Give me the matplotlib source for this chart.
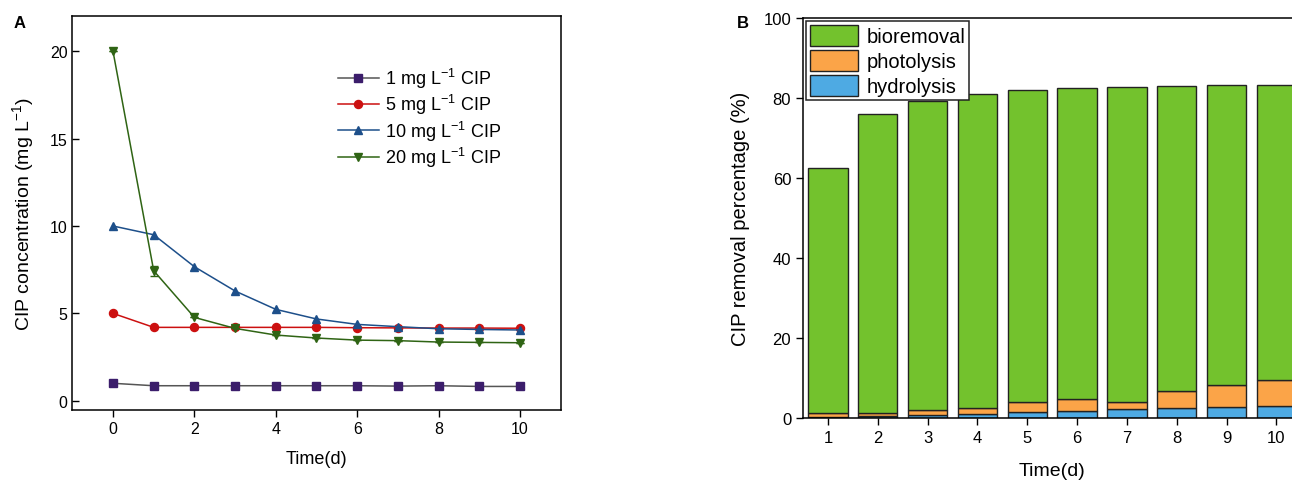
import matplotlib
matplotlib.use("Agg")
import matplotlib.pyplot as plt
import numpy as np

plt.rcParams['font.family'] = ['Liberation Sans', 'DejaVu Sans']
plt.rcParams['mathtext.fontset'] = 'custom'
plt.rcParams['mathtext.rm'] = 'Liberation Sans'
plt.rcParams['mathtext.default'] = 'regular'

# CIP concentration over time, four starting doses
days = [0, 1, 2, 3, 4, 5, 6, 7, 8, 9, 10]
conc_1 = [1.0, 0.86, 0.86, 0.86, 0.86, 0.86, 0.86, 0.84, 0.86, 0.82, 0.82]
conc_5 = [5.0, 4.2, 4.2, 4.2, 4.2, 4.2, 4.18, 4.17, 4.16, 4.16, 4.15]
conc_10 = [10.0, 9.5, 7.67, 6.28, 5.23, 4.68, 4.37, 4.24, 4.12, 4.08, 4.05]
conc_20 = [20.0, 7.44, 4.77, 4.14, 3.76, 3.59, 3.47, 3.44, 3.36, 3.34, 3.32]
err_20 = [0, 0.3, 0, 0, 0, 0, 0, 0, 0, 0, 0]
dose_labels = ['1 mg L$^{-1}$ CIP', '5 mg L$^{-1}$ CIP',
               '10 mg L$^{-1}$ CIP', '20 mg L$^{-1}$ CIP']

# removal pathways, % of CIP removed
bar_days = [1, 2, 3, 4, 5, 6, 7, 8, 9, 10]
hydrolysis = [0.3, 0.6, 0.83, 1.08, 1.5, 1.92, 2.25, 2.5, 2.92, 3.17]
photolysis = [0.9, 0.65, 1.17, 1.42, 2.58, 2.9, 1.92, 4.4, 5.5, 6.4]
total_removal = [62.5, 76.0, 79.2, 81.0, 82.0, 82.5, 82.7, 83.1, 83.2, 83.2]

W, H = 1292, 481
fig = plt.figure(figsize=(W / 100, H / 100), dpi=100)

# ---- panel A
ax1 = fig.add_axes([72.3 / W, 1 - 410.5 / H, 488.4 / W, 393.2 / H])
styles = [
    (conc_1, 's', '#3b1d6b', '#555555'),
    (conc_5, 'o', '#cc1010', '#cc1010'),
    (conc_10, '^', '#1d4f8a', '#1d4f8a'),
    (conc_20, 'v', '#2f6414', '#2f6414'),
]
for (vals, mk, mc, lc), lab in zip(styles, dose_labels):
    ax1.plot(days, vals, color=lc, lw=1.1, marker=mk, markersize=5.8,
             markerfacecolor=mc, markeredgecolor=mc, label=lab)
ax1.errorbar(days, conc_20, yerr=err_20, fmt='none', ecolor='#2f6414',
             elinewidth=0.8, capsize=3)

ax1.set_xlim(-1, 11)
ax1.set_ylim(-0.5, 22)
ax1.set_xticks([0, 2, 4, 6, 8, 10])
ax1.set_yticks([0, 5, 10, 15, 20])
ax1.tick_params(axis='y', direction='in', length=5, width=1, labelsize=11.5)
ax1.tick_params(axis='x', direction='out', length=5, width=1, labelsize=11.5)
for s in ax1.spines.values():
    s.set_linewidth(1.1)
ax1.set_xlabel('Time(d)', fontsize=13, labelpad=10)
ax1.set_ylabel('CIP concentration (mg L$^{-1}$)', fontsize=14, labelpad=10)
ax1.legend(loc='upper left', bbox_to_anchor=(0.51, 0.915), frameon=False,
           fontsize=13, handlelength=2.3, handletextpad=0.3,
           labelspacing=0.12)

# ---- panel B
ax2 = fig.add_axes([803 / W, 1 - 419.3 / H, 498.4 / W, 400.3 / H])
bio = np.array(total_removal) - np.array(hydrolysis) - np.array(photolysis)
ax2.bar(bar_days, hydrolysis, width=0.79, color='#4eaae3',
        edgecolor='#222222', lw=1, label='hydrolysis')
ax2.bar(bar_days, photolysis, width=0.79, bottom=hydrolysis, color='#fba448',
        edgecolor='#222222', lw=1, label='photolysis')
ax2.bar(bar_days, bio, width=0.79,
        bottom=np.array(hydrolysis) + np.array(photolysis),
        color='#73c22d', edgecolor='#222222', lw=1, label='bioremoval')

ax2.set_xlim(0.5, 10.5)
ax2.set_ylim(0, 100)
ax2.set_xticks(bar_days)
ax2.set_yticks([0, 20, 40, 60, 80, 100])
ax2.tick_params(direction='out', length=5, width=1, labelsize=12)
for s in ax2.spines.values():
    s.set_linewidth(1.1)
ax2.set_xlabel('Time(d)', fontsize=14, labelpad=12)
ax2.set_ylabel('CIP removal percentage (%)', fontsize=14.5, labelpad=10)
h, l = ax2.get_legend_handles_labels()
leg = ax2.legend(h[::-1], l[::-1], loc='upper left', bbox_to_anchor=(0, 1),
                 borderaxespad=0.15, fontsize=14.5, fancybox=False,
                 edgecolor='#222222', framealpha=1, handlelength=2.4,
                 handleheight=1.2, handletextpad=0.4, labelspacing=0.2,
                 borderpad=0.2)
leg.get_frame().set_linewidth(1.1)

fig.text(14 / W, 1 - 28 / H, 'A', fontsize=12, fontweight='bold')
fig.text(737 / W, 1 - 28 / H, 'B', fontsize=12, fontweight='bold')

fig.savefig('out.png', dpi=100)
